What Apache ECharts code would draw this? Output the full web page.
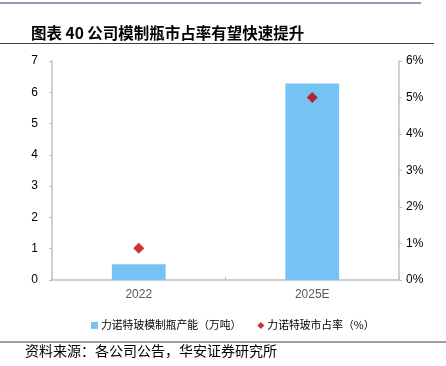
<!DOCTYPE html>
<html><head><meta charset="utf-8">
<script src="https://cdn.jsdelivr.net/npm/echarts@6/dist/echarts.min.js"></script>
<style>html,body{margin:0;padding:0;background:#fff}#c{width:446px;height:366px}</style>
</head><body><div id="c"></div>
<script>
const categories = ['2022', '2025E'];
const capacity = [0.5, 6.28];      // 万吨
const marketShare = [0.87, 5.0];   // %
const leftTicks = [0, 1, 2, 3, 4, 5, 6, 7];
const rightTicks = ['0%', '1%', '2%', '3%', '4%', '5%', '6%'];
const seriesNames = ['力诺特玻模制瓶产能（万吨）', '力诺特玻市占率（%）'];
const titleText = '图表 40 公司模制瓶市占率有望快速提升';
const sourceText = '资料来源：各公司公告，华安证券研究所';

const chart = echarts.init(document.getElementById('c'), null, {renderer: 'canvas'});
const font = '"Noto Sans CJK SC", sans-serif';
chart.setOption({
  animation: false,
  textStyle: {fontFamily: font},
  title: {
    text: titleText, left: 26, top: 20,
    textStyle: {fontSize: 15.5, fontWeight: 'bold', color: '#000', fontFamily: font}
  },
  graphic: [
    {type: 'line', shape: {x1: 0, y1: 3, x2: 421, y2: 3}, style: {stroke: '#1f3864', lineWidth: 1}},
    {type: 'line', shape: {x1: 0, y1: 43.5, x2: 434, y2: 43.5}, style: {stroke: '#404040', lineWidth: 1.2}},
    {type: 'line', shape: {x1: 0, y1: 342, x2: 446, y2: 342}, style: {stroke: '#404040', lineWidth: 1.2}},
    {type: 'text', left: 25, top: 344, style: {text: sourceText, font: '14px ' + font, fill: '#000'}}
  ],
  legend: {
    left: 86, top: 315, itemGap: 16, itemWidth: 7, itemHeight: 7,
    textStyle: {fontSize: 10.8, color: '#000', fontFamily: font, padding: [0,0,0,-2]},
    data: [{name: seriesNames[0], icon: 'rect'}, {name: seriesNames[1], icon: 'diamond'}]
  },
  grid: {left: 52, right: 47, top: 61, bottom: 86},
  xAxis: {
    type: 'category', data: categories,
    axisLine: {lineStyle: {color: '#bfbfbf', width: 1.5}},
    axisTick: {show: true, inside: true, length: 3, lineStyle: {color: '#bfbfbf'}},
    axisLabel: {color: '#595959', fontSize: 12, margin: 9, fontFamily: 'Liberation Sans, Arial, sans-serif'}
  },
  yAxis: [
    {
      type: 'value', min: 0, max: 7, interval: 1,
      axisLine: {show: true, lineStyle: {color: '#bfbfbf', width: 1.5}},
      axisTick: {show: true, length: 3, lineStyle: {color: '#bfbfbf'}},
      splitLine: {show: false},
      axisLabel: {color: '#000', fontSize: 12, margin: 14, fontFamily: 'Liberation Sans, Arial, sans-serif',
        formatter: v => String(leftTicks[v])}
    },
    {
      type: 'value', min: 0, max: 6, interval: 1, position: 'right',
      axisLine: {show: true, lineStyle: {color: '#bfbfbf', width: 1.5}},
      axisTick: {show: true, length: 3, lineStyle: {color: '#bfbfbf'}},
      splitLine: {show: false},
      axisLabel: {color: '#000', fontSize: 12, margin: 7, fontFamily: 'Liberation Sans, Arial, sans-serif',
        formatter: v => rightTicks[v]}
    }
  ],
  series: [
    {
      name: seriesNames[0], type: 'bar', data: capacity, barWidth: '31%',
      itemStyle: {color: '#75c3f4'}
    },
    {
      name: seriesNames[1], type: 'scatter', yAxisIndex: 1, data: marketShare,
      symbol: 'diamond', symbolSize: 11, itemStyle: {color: '#c00000'}
    }
  ]
});
</script></body></html>
